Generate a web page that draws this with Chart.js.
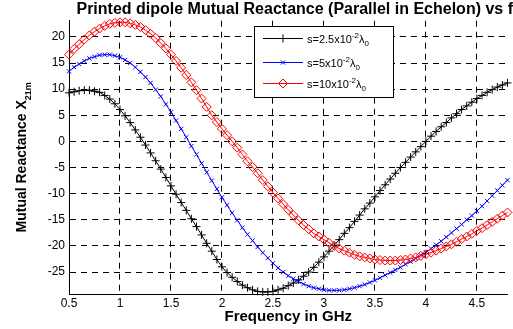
<!DOCTYPE html>
<html>
<head>
<meta charset="utf-8">
<script src="https://cdn.jsdelivr.net/npm/chart.js@4/dist/chart.umd.min.js"></script>
<style>
html, body { margin: 0; padding: 0; background: #fff; }
canvas { display: block; }
</style>
</head>
<body>
<canvas id="myChart" width="513" height="329"></canvas>
<script>
// frequency in GHz
var freq = [
    0.5, 0.55, 0.6, 0.65, 0.7, 0.75, 0.8, 0.85, 0.9, 0.95,
    1.0, 1.05, 1.1, 1.15, 1.2, 1.25, 1.3, 1.35, 1.4, 1.45,
    1.5, 1.55, 1.6, 1.65, 1.7, 1.75, 1.8, 1.85, 1.9, 1.95,
    2.0, 2.05, 2.1, 2.15, 2.2, 2.25, 2.3, 2.35, 2.4, 2.45,
    2.5, 2.55, 2.6, 2.65, 2.7, 2.75, 2.8, 2.85, 2.9, 2.95,
    3.0, 3.05, 3.1, 3.15, 3.2, 3.25, 3.3, 3.35, 3.4, 3.45,
    3.5, 3.55, 3.6, 3.65, 3.7, 3.75, 3.8, 3.85, 3.9, 3.95,
    4.0, 4.05, 4.1, 4.15, 4.2, 4.25, 4.3, 4.35, 4.4, 4.45,
    4.5, 4.55, 4.6, 4.65, 4.7, 4.75, 4.8
];

// s = 2.5x10^-2 lambda0
var x21_s25 = [
    9.3, 9.5, 9.7, 9.8, 9.8, 9.6, 9.4, 8.8, 8.1, 7.2,
    6.1, 4.9, 3.6, 2.2, 0.8, -0.7, -2.2, -3.7, -5.3, -6.9,
    -8.5, -10.1, -11.7, -13.2, -14.8, -16.3, -17.9, -19.5, -21.0, -22.6,
    -24.0, -25.1, -26.0, -26.8, -27.5, -28.0, -28.4, -28.7, -28.8, -28.8,
    -28.7, -28.4, -28.1, -27.6, -27.1, -26.5, -25.8, -25.0, -24.1, -23.1,
    -22.1, -21.0, -19.9, -18.8, -17.6, -16.5, -15.3, -14.1, -12.9, -11.8,
    -10.6, -9.4, -8.3, -7.2, -6.1, -5.0, -4.0, -3.0, -2.0, -1.0,
    0.0, 1.0, 1.9, 2.8, 3.6, 4.5, 5.3, 6.1, 6.8, 7.5,
    8.2, 8.8, 9.4, 9.9, 10.4, 10.8, 11.2
];

// s = 5x10^-2 lambda0
var x21_s5 = [
    13.4, 14.2, 14.8, 15.4, 15.9, 16.2, 16.5, 16.6, 16.6, 16.4,
    16.1, 15.6, 15.0, 14.2, 13.3, 12.3, 11.2, 9.9, 8.6, 7.1,
    5.6, 4.0, 2.4, 0.8, -0.9, -2.5, -4.2, -5.9, -7.5, -9.1,
    -10.7, -12.2, -13.7, -15.1, -16.5, -17.8, -19.0, -20.2, -21.3, -22.3,
    -23.3, -24.2, -25.0, -25.7, -26.3, -26.8, -27.3, -27.7, -28.0, -28.2,
    -28.4, -28.5, -28.5, -28.5, -28.4, -28.2, -28.0, -27.7, -27.4, -27.0,
    -26.6, -26.1, -25.6, -25.1, -24.6, -24.1, -23.5, -23.0, -22.4, -21.8,
    -21.2, -20.5, -19.8, -19.1, -18.3, -17.5, -16.7, -15.9, -15.0, -14.2,
    -13.3, -12.4, -11.4, -10.4, -9.4, -8.4, -7.4
];

// s = 10x10^-2 lambda0
var x21_s10 = [
    16.6, 17.7, 18.6, 19.5, 20.3, 21.0, 21.6, 22.1, 22.5, 22.7,
    22.8, 22.8, 22.6, 22.3, 21.9, 21.3, 20.6, 19.8, 18.8, 17.8,
    16.6, 15.4, 14.1, 12.7, 11.3, 9.8, 8.2, 6.6, 5.0, 3.7,
    2.4, 1.2, 0.0, -1.2, -2.5, -3.8, -4.9, -6.1, -7.4, -8.6,
    -9.8, -10.9, -12.0, -13.1, -14.1, -15.1, -16.0, -16.8, -17.6, -18.2,
    -18.8, -19.4, -20.0, -20.5, -20.9, -21.3, -21.7, -22.0, -22.2, -22.4,
    -22.6, -22.7, -22.8, -22.8, -22.8, -22.7, -22.6, -22.4, -22.2, -21.9,
    -21.6, -21.3, -20.9, -20.5, -20.1, -19.7, -19.2, -18.7, -18.2, -17.7,
    -17.1, -16.6, -16.0, -15.4, -14.8, -14.2, -13.6
];

var legendBase = ['s=2.5x10', 's=5x10', 's=10x10'];
var legendSup = '-2';
var xLimits = [0.5, 4.8];
var yLimits = [-29.2, 23.1];

var FONT = "'Liberation Sans', Arial, sans-serif";

function toPoints(ys) {
    return freq.map(function (f, i) { return { x: f, y: ys[i] }; });
}

function drawMarker(ctx, style, x, y, r, color) {
    ctx.save();
    ctx.strokeStyle = color;
    ctx.lineWidth = 1;
    ctx.beginPath();
    if (style === 'cross') {
        ctx.moveTo(x - r, y); ctx.lineTo(x + r, y);
        ctx.moveTo(x, y - r); ctx.lineTo(x, y + r);
    } else if (style === 'crossRot') {
        var d = r * 0.707;
        ctx.moveTo(x - d, y - d); ctx.lineTo(x + d, y + d);
        ctx.moveTo(x - d, y + d); ctx.lineTo(x + d, y - d);
    } else {
        ctx.moveTo(x, y - r); ctx.lineTo(x + r, y);
        ctx.lineTo(x, y + r); ctx.lineTo(x - r, y);
        ctx.closePath();
    }
    ctx.stroke();
    ctx.restore();
}

// legend box drawn inside the axes, like the matlab one
var matlabLegend = {
    id: 'matlabLegend',
    afterDraw: function (chart) {
        var ctx = chart.ctx;
        var bx = 254, by = 26, bw = 139, bh = 71;
        ctx.save();
        ctx.fillStyle = '#fff';
        ctx.fillRect(bx, by, bw, bh);
        ctx.strokeStyle = '#000';
        ctx.lineWidth = 1;
        ctx.strokeRect(bx + 0.5, by + 0.5, bw, bh);

        var rowsY = [38.5, 62.5, 83.5];
        chart.data.datasets.forEach(function (ds, i) {
            var y = rowsY[i];
            ctx.strokeStyle = ds.borderColor;
            ctx.lineWidth = 1;
            ctx.beginPath();
            ctx.moveTo(263, y);
            ctx.lineTo(303, y);
            ctx.stroke();
            drawMarker(ctx, ds.pointStyle, 283, y, ds.pointRadius, ds.borderColor);

            ctx.fillStyle = '#000';
            ctx.textBaseline = 'alphabetic';
            ctx.textAlign = 'left';
            var tx = 307;
            var base = y + 4;
            ctx.font = '11px ' + FONT;
            ctx.fillText(legendBase[i], tx, base);
            tx += ctx.measureText(legendBase[i]).width;
            ctx.font = '8px ' + FONT;
            ctx.fillText(legendSup, tx, base - 5);
            tx += ctx.measureText(legendSup).width;
            ctx.font = '11px ' + FONT;
            ctx.fillText('\u03bb', tx, base);
            tx += ctx.measureText('\u03bb').width;
            ctx.font = '8px ' + FONT;
            ctx.fillText('0', tx, base + 3);
        });
        ctx.restore();
    }
};

// y label has a subscript, chart.js titles can't do that
var yLabel = {
    id: 'yLabel',
    afterDraw: function (chart) {
        var ctx = chart.ctx;
        var area = chart.chartArea;
        var main = 'Mutual Reactance X';
        var sub = '21m';
        ctx.save();
        ctx.translate(21, (area.top + area.bottom) / 2);
        ctx.rotate(-Math.PI / 2);
        ctx.fillStyle = '#000';
        ctx.textBaseline = 'alphabetic';
        ctx.font = 'bold 14px ' + FONT;
        var w1 = ctx.measureText(main).width;
        ctx.font = 'bold 9px ' + FONT;
        var w2 = ctx.measureText(sub).width;
        var start = -(w1 + w2) / 2;
        ctx.font = 'bold 14px ' + FONT;
        ctx.fillText(main, start, 5);
        ctx.font = 'bold 9px ' + FONT;
        ctx.fillText(sub, start + w1, 10);
        ctx.restore();
    }
};

var ctx = document.getElementById('myChart');

new Chart(ctx, {
    type: 'line',
    data: {
        datasets: [
            {
                label: 's=2.5x10-2 λ0',
                data: toPoints(x21_s25),
                borderColor: '#000000',
                backgroundColor: '#000000',
                borderWidth: 1,
                pointStyle: 'cross',
                pointRadius: 4,
                pointBorderWidth: 1,
                clip: false,
                order: 3
            },
            {
                label: 's=5x10-2 λ0',
                data: toPoints(x21_s5),
                borderColor: '#0000ff',
                backgroundColor: '#0000ff',
                borderWidth: 1,
                pointStyle: 'crossRot',
                pointRadius: 3,
                pointBorderWidth: 1,
                clip: false,
                order: 2
            },
            {
                label: 's=10x10-2 λ0',
                data: toPoints(x21_s10),
                borderColor: '#ff0000',
                backgroundColor: 'rgba(0,0,0,0)',
                borderWidth: 1,
                pointStyle: 'rectRot',
                pointRadius: 4.5,
                pointBorderWidth: 1,
                clip: false,
                order: 1
            }
        ]
    },
    options: {
        responsive: false,
        animation: false,
        layout: { padding: { left: 0, right: 0, top: 0, bottom: 0 } },
        plugins: {
            legend: { display: false },
            tooltip: { enabled: false },
            title: {
                display: true,
                text: 'Printed dipole Mutual Reactance (Parallel in Echelon) vs f',
                color: '#000',
                align: 'end',
                font: { family: FONT, size: 16, weight: 'bold' },
                padding: { top: 0, bottom: 1.5 }
            }
        },
        scales: {
            x: {
                type: 'linear',
                min: xLimits[0],
                max: xLimits[1],
                afterFit: function (scale) { scale.height = 35; },
                ticks: {
                    stepSize: 0.5,
                    includeBounds: false,
                    color: '#000',
                    padding: 2,
                    maxRotation: 0,
                    font: { family: FONT, size: 12 },
                    callback: function (v) { return String(v); }
                },
                grid: { color: '#000', drawTicks: false, lineWidth: 1 },
                border: { display: true, color: '#000', width: 1, dash: [6, 5] },
                title: {
                    display: true,
                    text: 'Frequency in GHz',
                    color: '#000',
                    font: { family: FONT, size: 15, weight: 'bold' },
                    padding: { top: 0, bottom: 3 }
                }
            },
            y: {
                type: 'linear',
                min: yLimits[0],
                max: yLimits[1],
                afterFit: function (scale) { scale.width = 69; },
                ticks: {
                    stepSize: 5,
                    includeBounds: false,
                    color: '#000',
                    padding: 4,
                    font: { family: FONT, size: 12 }
                },
                grid: { color: '#000', drawTicks: false, lineWidth: 1 },
                border: { display: true, color: '#000', width: 1, dash: [6, 5] }
            }
        }
    },
    plugins: [yLabel, matlabLegend]
});
</script>
</body>
</html>
